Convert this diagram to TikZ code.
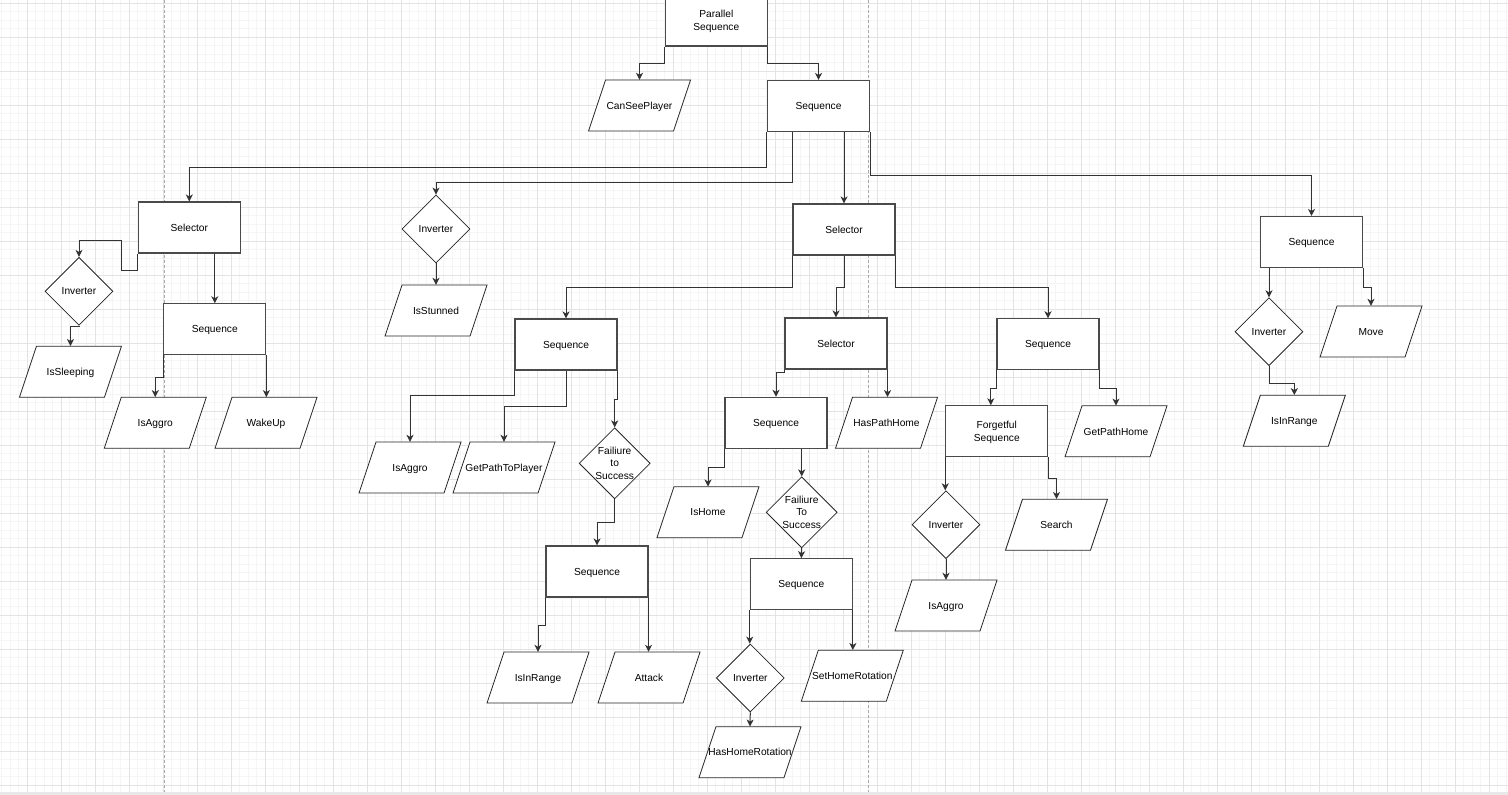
\documentclass[tikz,border=0pt]{standalone}
\usepackage{fontspec}
\setmainfont{Liberation Sans}
\usetikzlibrary{shapes.geometric,arrows.meta,calc}
\definecolor{gminor}{HTML}{F5F5F5}
\definecolor{gmajor}{HTML}{E3E3E3}
\definecolor{pagebrk}{HTML}{AAAAAA}
\definecolor{boxline}{HTML}{4A4A4A}
\definecolor{bottombar}{HTML}{E8E8E8}
\tikzset{
  lbl/.style={font=\fontsize{10.2pt}{12.5pt}\selectfont, align=center, text=black},
  tbox/.style={lbl, rectangle, draw=boxline, line width=1.1pt, fill=white, minimum width=102pt, minimum height=51pt, inner sep=0pt, text depth=0pt},
  diam/.style={lbl, diamond, draw=black!85, line width=0.8pt, fill=white, minimum width=68pt, minimum height=68pt, inner sep=0pt, aspect=1},
  ptext/.style={lbl, rectangle, minimum width=102pt, minimum height=51pt, inner sep=0pt, text depth=0pt},
  pshape/.style={draw=black!85, line width=0.8pt, fill=white},
  conn/.style={draw=black!80, line width=1pt, -{Stealth[length=7pt,width=7pt,inset=2pt]}},
  gridminor/.style={draw=gminor, line width=0.8pt},
  gridmajor/.style={draw=gmajor, line width=0.9pt},
}
\newcommand\paranode[4]{%
  \draw[pshape] ({#2-34},{#3-25.5}) -- ({#2+51},{#3-25.5}) -- ({#2+34},{#3+25.5}) -- ({#2-51},{#3+25.5}) -- cycle;
  \node[ptext] (#1) at (#2,#3) {#4};}
\begin{document}
\begin{tikzpicture}[x=1pt,y=-1pt]
\clip (0,0) rectangle (1508,795);
\fill[white] (0,0) rectangle (1508,795);
% grid
\foreach \k in {0,...,177} \draw[gridminor] ({1.8+8.5*\k},0) -- ({1.8+8.5*\k},792);
\foreach \k in {0,...,92} \draw[gridminor] (0,{3.3+8.5*\k}) -- (1508,{3.3+8.5*\k});
\foreach \k in {0,...,43} \draw[gridmajor] ({27.3+34*\k},0) -- ({27.3+34*\k},792);
\foreach \k in {0,...,23} \draw[gridmajor] (0,{3.3+34*\k}) -- (1508,{3.3+34*\k});
\draw[pagebrk, line width=0.9pt, dash pattern=on 3pt off 2pt] (164,0) -- (164,792);
\draw[pagebrk, line width=0.9pt, dash pattern=on 3pt off 2pt] (868,0) -- (868,792);
\fill[bottombar] (0,792) rectangle (1508,795);

% boxes
\node[tbox] (ps) at (716.3,20.5) {Parallel\\Sequence};
\node[tbox] (seq1) at (818.5,106) {Sequence};
\node[tbox] (sel1) at (189.3,227.5) {Selector};
\node[tbox] (seqL) at (214.8,329.3) {Sequence};
\node[tbox] (sel2) at (844,229.5) {Selector};
\node[tbox] (seqA) at (566,344.5) {Sequence};
\node[tbox] (seqC) at (597,571.5) {Sequence};
\node[tbox] (sel3) at (836,343.5) {Selector};
\node[tbox] (seqM) at (776,422.8) {Sequence};
\node[tbox] (seqN) at (801.3,584.2) {Sequence};
\node[tbox] (seqB) at (1048,344.3) {Sequence};
\node[tbox] (forg) at (996.8,431.3) {Forgetful\\Sequence};
\node[tbox] (seq4) at (1311.5,242) {Sequence};

% diamonds
\node[diam] (invL) at (79,291.3) {Inverter};
\node[diam] (inv1) at (436,229) {Inverter};
\node[diam] (fts1) at (614.7,463.3) {Failiure\\to\\Success};
\node[diam] (fts2) at (801.7,512.3) {Failiure\\To\\Success};
\node[diam] (invN) at (750.3,678) {Inverter};
\node[diam] (invF) at (946,524.7) {Inverter};
\node[diam] (invR) at (1269,331.7) {Inverter};

% parallelograms
\paranode{csp}{639.5}{105.5}{CanSeePlayer}
\paranode{sleep}{70.5}{371.7}{IsSleeping}
\paranode{aggL}{155.3}{422.8}{IsAggro}
\paranode{wake}{266}{422.8}{WakeUp}
\paranode{stun}{436}{310.5}{IsStunned}
\paranode{aggA}{410}{467.5}{IsAggro}
\paranode{gptp}{504}{467.5}{GetPathToPlayer}
\paranode{irA}{538}{677.5}{IsInRange}
\paranode{atk}{649}{677.5}{Attack}
\paranode{hph}{886.5}{422.8}{HasPathHome}
\paranode{home}{708}{512.2}{IsHome}
\paranode{shr}{852.3}{675.7}{SetHomeRotation}
\paranode{hhr}{750}{752.2}{HasHomeRotation}
\paranode{gph}{1116}{431.3}{GetPathHome}
\paranode{aggF}{946}{605.5}{IsAggro}
\paranode{search}{1056.5}{524.7}{Search}
\paranode{move}{1371}{331.5}{Move}
\paranode{irR}{1294.3}{420.8}{IsInRange}

% connectors
\draw[conn] (ps.south west) -- ++(0,17) -| (csp.north);
\draw[conn] (ps.south east) -- ++(0,17) -| (seq1.north);

\draw[conn] (seq1.south west) -- ++(0,35) -| (sel1.north);
\draw[conn] ([xshift=26pt]seq1.south west) -- ++(0,50.5) -| (inv1.north);
\draw[conn] (seq1.south -| sel2.north) -- (sel2.north);
\draw[conn] (seq1.south east) -- ++(0,43.5) -| (seq4.north);

\draw[conn] (sel1.south west) -- ++(0,17) -- ++(-16.5,0) -- ++(0,-29.7) -| (invL.north);
\draw[conn] (sel1.south -| seqL.north) -- (seqL.north);
\draw[conn] (invL.south) -- ++(0,1) -| (sleep.north);
\draw[conn] (seqL.south west) -- ++(0,22) -| (aggL.north);
\draw[conn] (seqL.south east) -- (seqL.south east |- wake.north);

\draw[conn] (inv1.south) -- (stun.north);

\draw[conn] (sel2.south west) -- ++(0,32) -| (seqA.north);
\draw[conn] (sel2.south) -- ++(0,32) -| (sel3.north);
\draw[conn] (sel2.south east) -- ++(0,32) -| (seqB.north);

\draw[conn] (seqA.south west) -- ++(0,25) -| (aggA.north);
\draw[conn] (seqA.south) -- ++(0,36) -| (gptp.north);
\draw[conn] (seqA.south east) -- ++(0,29) -| (fts1.north);
\draw[conn] (fts1.south) -- ++(0,23) -| (seqC.north);
\draw[conn] (seqC.south west) -- ++(0,28) -| (irA.north);
\draw[conn] (seqC.south east) -- (seqC.south east |- atk.north);

\draw[conn] (sel3.south west) -- ++(0,3) -| (seqM.north);
\draw[conn] (sel3.south east) -- (sel3.south east |- hph.north);
\draw[conn] (seqM.south west) -- ++(0,19) -| (home.north);
\draw[conn] (seqM.south -| fts2.north) -- (fts2.north);
\draw[conn] (fts2.south) -- (seqN.north);
\draw[conn] (seqN.south west) -- (seqN.south west |- invN.north);
\draw[conn] (seqN.south east) -- (seqN.south east |- shr.north);
\draw[conn] (invN.south) -- (hhr.north);

\draw[conn] (seqB.south west) -- ++(0,18) -| ([xshift=-6pt]forg.north);
\draw[conn] (seqB.south east) -- ++(0,18) -| (gph.north);
\draw[conn] (forg.south west) -- (forg.south west |- invF.north);
\draw[conn] (forg.south east) -- ++(0,21.5) -| (search.north);
\draw[conn] (invF.south) -- (aggF.north);

\draw[conn] (seq4.south -| invR.north) -- (invR.north);
\draw[conn] (seq4.south east) -- ++(0,19.5) -| (move.north);
\draw[conn] (invR.south) -- ++(0,17.3) -| (irR.north);
\end{tikzpicture}
\end{document}
